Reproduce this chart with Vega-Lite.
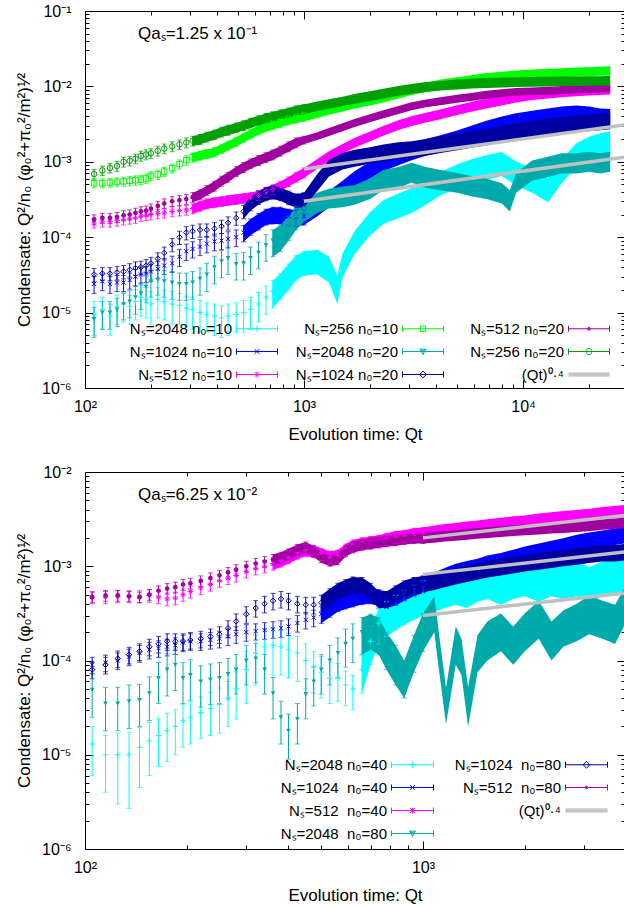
{
"$schema": "https://vega.github.io/schema/vega-lite/v6.json",
"background": "white",
"padding": {"left": 14, "top": 2, "right": 0, "bottom": 0},
"spacing": 20,
"config": {
  "font": "Liberation Sans",
  "view": {"stroke": "black", "strokeWidth": 1},
  "axis": {"labelColor": "black", "tickColor": "black", "titleColor": "black", "labelFontSize": 16, "titleFontSize": 17, "titleFontWeight": "normal", "grid": false, "domain": false, "labelFlush": false, "labelOverlap": false, "tickWidth": 1},
  "legend": {"labelColor": "black"},
  "title": {"color": "black", "fontWeight": "normal"}
},
"datasets": {
"topfit": [
{"k":1,"t":1000,"y":8e-4},{"k":1,"t":29200,"y":3.085e-3},
{"k":2,"t":1000,"y":3e-4},{"k":2,"t":29200,"y":1.157e-3}
],
"botfit": [
{"k":1,"t":1000,"y":2e-3},{"k":1,"t":3960,"y":3.47e-3},
{"k":2,"t":1000,"y":8.2e-4},{"k":2,"t":3960,"y":1.42e-3},
{"k":3,"t":1000,"y":3e-4},{"k":3,"t":3960,"y":5.2e-4}
],
"top": [
{"s":"A","t":110,"y":9.5e-6,"e":4.5e-6},{"s":"A","t":120,"y":1.1e-5,"e":5e-6},{"s":"A","t":130,"y":9e-6,"e":4e-6},{"s":"A","t":140,"y":1.2e-5,"e":5e-6},{"s":"A","t":150,"y":1.3e-5,"e":5.5e-6},{"s":"A","t":160,"y":1.2e-5,"e":5e-6},{"s":"A","t":170,"y":1.4e-5,"e":6e-6},{"s":"A","t":180,"y":1.6e-5,"e":7e-6},{"s":"A","t":190,"y":1.5e-5,"e":6.5e-6},{"s":"A","t":200,"y":1.3e-5,"e":6e-6},{"s":"A","t":215,"y":1.5e-5,"e":6.5e-6},{"s":"A","t":230,"y":1.4e-5,"e":6e-6},{"s":"A","t":250,"y":1.3e-5,"e":6e-6},{"s":"A","t":270,"y":1.25e-5,"e":5.5e-6},{"s":"A","t":290,"y":1.15e-5,"e":5e-6},{"s":"A","t":310,"y":1.1e-5,"e":5e-6},{"s":"A","t":335,"y":1e-5,"e":4.5e-6},{"s":"A","t":360,"y":9.5e-6,"e":4e-6},{"s":"A","t":390,"y":9e-6,"e":4e-6},{"s":"A","t":420,"y":8.5e-6,"e":3.8e-6},{"s":"A","t":450,"y":9e-6,"e":4e-6},{"s":"A","t":490,"y":9.5e-6,"e":4e-6},{"s":"A","t":530,"y":1e-5,"e":4.5e-6},{"s":"A","t":570,"y":1.1e-5,"e":5e-6},{"s":"A","t":620,"y":1.3e-5,"e":5.5e-6},{"s":"A","t":670,"y":1.6e-5,"e":6.5e-6},{"s":"A","t":720,"y":1.9e-5,"e":7.5e-6},{"s":"A","t":780,"y":2.4e-5,"e":9e-6},{"s":"A","t":850,"y":3.2e-5,"e":1.2e-5},{"s":"A","t":920,"y":4.2e-5,"e":1.5e-5},{"s":"A","t":1000,"y":4.8e-5,"e":1.7e-5},{"s":"A","t":1150,"y":5e-5,"e":1.8e-5},{"s":"A","t":1300,"y":4e-5,"e":1.5e-5},{"s":"A","t":1420,"y":2.2e-5,"e":9e-6},{"s":"A","t":1500,"y":4.5e-5,"e":1.6e-5},{"s":"A","t":1700,"y":9e-5,"e":3e-5},{"s":"A","t":2000,"y":1.6e-4,"e":5.5e-5},{"s":"A","t":2300,"y":2.3e-4,"e":8e-5},{"s":"A","t":2700,"y":2.8e-4,"e":1e-4},{"s":"A","t":3100,"y":3.3e-4,"e":1.2e-4},{"s":"A","t":3600,"y":4.2e-4,"e":1.5e-4},{"s":"A","t":4200,"y":5.5e-4,"e":1.9e-4},{"s":"A","t":5000,"y":6.8e-4,"e":2.4e-4},{"s":"A","t":5800,"y":8e-4,"e":2.8e-4},{"s":"A","t":6800,"y":9e-4,"e":3.2e-4},{"s":"A","t":8000,"y":1e-3,"e":3.5e-4},{"s":"A","t":9300,"y":7.5e-4,"e":2.6e-4},{"s":"A","t":11000,"y":6e-4,"e":2.1e-4},{"s":"A","t":13000,"y":4.5e-4,"e":1.6e-4},{"s":"A","t":15000,"y":8e-4,"e":2.8e-4},{"s":"A","t":17500,"y":1.3e-3,"e":4.5e-4},{"s":"A","t":20000,"y":1.6e-3,"e":5.5e-4},{"s":"A","t":22500,"y":1.8e-3,"e":6e-4},{"s":"A","t":25000,"y":1.9e-3,"e":6.5e-4},
{"s":"B","t":110,"y":2.4e-5,"e":6e-6},{"s":"B","t":120,"y":2.6e-5,"e":6.5e-6},{"s":"B","t":130,"y":2.4e-5,"e":6e-6},{"s":"B","t":140,"y":2.5e-5,"e":6e-6},{"s":"B","t":150,"y":2.5e-5,"e":6e-6},{"s":"B","t":160,"y":2.7e-5,"e":6.5e-6},{"s":"B","t":170,"y":3e-5,"e":7.5e-6},{"s":"B","t":180,"y":3.2e-5,"e":8e-6},{"s":"B","t":190,"y":3.3e-5,"e":8e-6},{"s":"B","t":200,"y":3.5e-5,"e":9e-6},{"s":"B","t":215,"y":3.8e-5,"e":9.5e-6},{"s":"B","t":230,"y":4.2e-5,"e":1e-5},{"s":"B","t":250,"y":4.5e-5,"e":1.1e-5},{"s":"B","t":270,"y":5.5e-5,"e":1.4e-5},{"s":"B","t":290,"y":6.5e-5,"e":1.6e-5},{"s":"B","t":310,"y":7e-5,"e":1.7e-5},{"s":"B","t":335,"y":7.5e-5,"e":1.8e-5},{"s":"B","t":360,"y":8.2e-5,"e":2e-5},{"s":"B","t":390,"y":8.8e-5,"e":2.2e-5},{"s":"B","t":420,"y":9e-5,"e":2.2e-5},{"s":"B","t":450,"y":9.5e-5,"e":2.3e-5},{"s":"B","t":490,"y":1e-4,"e":2.5e-5},{"s":"B","t":530,"y":1.15e-4,"e":2.8e-5},{"s":"B","t":570,"y":1.4e-4,"e":3.4e-5},{"s":"B","t":620,"y":1.65e-4,"e":4e-5},{"s":"B","t":670,"y":1.9e-4,"e":4.5e-5},{"s":"B","t":720,"y":2e-4,"e":5e-5},{"s":"B","t":780,"y":2e-4,"e":5e-5},{"s":"B","t":850,"y":1.9e-4,"e":4.5e-5},{"s":"B","t":920,"y":1.85e-4,"e":4.5e-5},{"s":"B","t":1000,"y":1.9e-4,"e":4.5e-5},{"s":"B","t":1150,"y":2.5e-4,"e":6e-5},{"s":"B","t":1300,"y":3.3e-4,"e":8e-5},{"s":"B","t":1500,"y":4.5e-4,"e":1.1e-4},{"s":"B","t":1700,"y":6e-4,"e":1.5e-4},{"s":"B","t":2000,"y":8e-4,"e":2e-4},{"s":"B","t":2300,"y":1e-3,"e":2.5e-4},{"s":"B","t":2700,"y":1.2e-3,"e":3e-4},{"s":"B","t":3100,"y":1.4e-3,"e":3.5e-4},{"s":"B","t":3600,"y":1.6e-3,"e":4e-4},{"s":"B","t":4200,"y":1.8e-3,"e":4.5e-4},{"s":"B","t":5000,"y":2.1e-3,"e":5e-4},{"s":"B","t":5800,"y":2.4e-3,"e":6e-4},{"s":"B","t":6800,"y":2.8e-3,"e":7e-4},{"s":"B","t":8000,"y":3.2e-3,"e":8e-4},{"s":"B","t":9300,"y":3.5e-3,"e":9e-4},{"s":"B","t":11000,"y":3.8e-3,"e":9.5e-4},{"s":"B","t":13000,"y":4.1e-3,"e":1e-3},{"s":"B","t":15000,"y":4.3e-3,"e":1.1e-3},{"s":"B","t":17500,"y":4.5e-3,"e":1.1e-3},{"s":"B","t":20000,"y":4.3e-3,"e":1.1e-3},{"s":"B","t":22500,"y":4.1e-3,"e":1e-3},{"s":"B","t":25000,"y":4e-3,"e":1e-3},
{"s":"C","t":110,"y":1.55e-4,"e":2.3e-5},{"s":"C","t":120,"y":1.6e-4,"e":2.4e-5},{"s":"C","t":130,"y":1.6e-4,"e":2.4e-5},{"s":"C","t":140,"y":1.65e-4,"e":2.5e-5},{"s":"C","t":150,"y":1.7e-4,"e":2.5e-5},{"s":"C","t":160,"y":1.75e-4,"e":2.6e-5},{"s":"C","t":170,"y":1.8e-4,"e":2.7e-5},{"s":"C","t":180,"y":1.9e-4,"e":2.8e-5},{"s":"C","t":190,"y":1.95e-4,"e":2.9e-5},{"s":"C","t":200,"y":2e-4,"e":3e-5},{"s":"C","t":215,"y":2.05e-4,"e":3e-5},{"s":"C","t":230,"y":2.1e-4,"e":3.1e-5},{"s":"C","t":250,"y":2.2e-4,"e":3.3e-5},{"s":"C","t":270,"y":2.25e-4,"e":3.4e-5},{"s":"C","t":290,"y":2.3e-4,"e":3.4e-5},{"s":"C","t":310,"y":2.4e-4,"e":3.6e-5},{"s":"C","t":335,"y":2.6e-4,"e":3.9e-5},{"s":"C","t":360,"y":2.8e-4,"e":4.2e-5},{"s":"C","t":390,"y":2.9e-4,"e":4.4e-5},{"s":"C","t":420,"y":3e-4,"e":4.5e-5},{"s":"C","t":450,"y":3.1e-4,"e":4.6e-5},{"s":"C","t":490,"y":3.2e-4,"e":4.8e-5},{"s":"C","t":530,"y":3.3e-4,"e":5e-5},{"s":"C","t":570,"y":3.4e-4,"e":5e-5},{"s":"C","t":620,"y":3.6e-4,"e":5.4e-5},{"s":"C","t":670,"y":4e-4,"e":6e-5},{"s":"C","t":720,"y":4.3e-4,"e":6.5e-5},{"s":"C","t":780,"y":4.8e-4,"e":7e-5},{"s":"C","t":850,"y":5.5e-4,"e":8e-5},{"s":"C","t":920,"y":6.3e-4,"e":9.5e-5},{"s":"C","t":1000,"y":7.2e-4,"e":1.1e-4},{"s":"C","t":1150,"y":9.5e-4,"e":1.4e-4},{"s":"C","t":1300,"y":1.2e-3,"e":1.8e-4},{"s":"C","t":1500,"y":1.5e-3,"e":2.2e-4},{"s":"C","t":1700,"y":1.8e-3,"e":2.7e-4},{"s":"C","t":2000,"y":2.2e-3,"e":3.3e-4},{"s":"C","t":2300,"y":2.6e-3,"e":3.9e-4},{"s":"C","t":2700,"y":3.1e-3,"e":4.6e-4},{"s":"C","t":3100,"y":3.5e-3,"e":5.2e-4},{"s":"C","t":3600,"y":3.9e-3,"e":5.8e-4},{"s":"C","t":4200,"y":4.3e-3,"e":6.4e-4},{"s":"C","t":5000,"y":4.9e-3,"e":7.3e-4},{"s":"C","t":5800,"y":5.4e-3,"e":8e-4},{"s":"C","t":6800,"y":6e-3,"e":9e-4},{"s":"C","t":8000,"y":6.6e-3,"e":1e-3},{"s":"C","t":9300,"y":7.2e-3,"e":1.1e-3},{"s":"C","t":11000,"y":7.7e-3,"e":1.1e-3},{"s":"C","t":13000,"y":8.1e-3,"e":1.2e-3},{"s":"C","t":15000,"y":8.4e-3,"e":1.2e-3},{"s":"C","t":17500,"y":8.7e-3,"e":1.3e-3},{"s":"C","t":20000,"y":8.9e-3,"e":1.3e-3},{"s":"C","t":22500,"y":9e-3,"e":1.3e-3},{"s":"C","t":25000,"y":9.1e-3,"e":1.3e-3},
{"s":"D","t":110,"y":5.2e-4,"e":7e-5},{"s":"D","t":120,"y":5.2e-4,"e":7e-5},{"s":"D","t":130,"y":5.3e-4,"e":7e-5},{"s":"D","t":140,"y":5.4e-4,"e":7.5e-5},{"s":"D","t":150,"y":5.5e-4,"e":7.5e-5},{"s":"D","t":160,"y":5.6e-4,"e":8e-5},{"s":"D","t":170,"y":5.7e-4,"e":8e-5},{"s":"D","t":180,"y":5.8e-4,"e":8e-5},{"s":"D","t":190,"y":6e-4,"e":8.5e-5},{"s":"D","t":200,"y":6.5e-4,"e":9e-5},{"s":"D","t":215,"y":6.8e-4,"e":9.5e-5},{"s":"D","t":230,"y":7.4e-4,"e":1e-4},{"s":"D","t":250,"y":8.2e-4,"e":1.1e-4},{"s":"D","t":270,"y":9.3e-4,"e":1.3e-4},{"s":"D","t":290,"y":1.05e-3,"e":1.5e-4},{"s":"D","t":310,"y":1.15e-3,"e":1.6e-4},{"s":"D","t":335,"y":1.22e-3,"e":1.7e-4},{"s":"D","t":360,"y":1.28e-3,"e":1.8e-4},{"s":"D","t":390,"y":1.35e-3,"e":1.9e-4},{"s":"D","t":420,"y":1.5e-3,"e":2.1e-4},{"s":"D","t":450,"y":1.65e-3,"e":2.3e-4},{"s":"D","t":490,"y":1.85e-3,"e":2.6e-4},{"s":"D","t":530,"y":2.1e-3,"e":2.9e-4},{"s":"D","t":570,"y":2.35e-3,"e":3.3e-4},{"s":"D","t":620,"y":2.65e-3,"e":3.7e-4},{"s":"D","t":670,"y":2.9e-3,"e":4e-4},{"s":"D","t":720,"y":3.1e-3,"e":4.3e-4},{"s":"D","t":780,"y":3.35e-3,"e":4.7e-4},{"s":"D","t":850,"y":3.6e-3,"e":5e-4},{"s":"D","t":920,"y":3.8e-3,"e":5.3e-4},{"s":"D","t":1000,"y":4e-3,"e":5.6e-4},{"s":"D","t":1150,"y":4.4e-3,"e":6e-4},{"s":"D","t":1300,"y":4.9e-3,"e":6.8e-4},{"s":"D","t":1500,"y":5.4e-3,"e":7.5e-4},{"s":"D","t":1700,"y":5.9e-3,"e":8.2e-4},{"s":"D","t":2000,"y":6.5e-3,"e":9e-4},{"s":"D","t":2300,"y":7.1e-3,"e":1e-3},{"s":"D","t":2700,"y":8e-3,"e":1.1e-3},{"s":"D","t":3100,"y":8.9e-3,"e":1.2e-3},{"s":"D","t":3600,"y":9.8e-3,"e":1.4e-3},{"s":"D","t":4200,"y":1.08e-2,"e":1.5e-3},{"s":"D","t":5000,"y":1.16e-2,"e":1.6e-3},{"s":"D","t":5800,"y":1.24e-2,"e":1.7e-3},{"s":"D","t":6800,"y":1.32e-2,"e":1.8e-3},{"s":"D","t":8000,"y":1.38e-2,"e":1.9e-3},{"s":"D","t":9300,"y":1.43e-2,"e":2e-3},{"s":"D","t":11000,"y":1.47e-2,"e":2e-3},{"s":"D","t":13000,"y":1.5e-2,"e":2.1e-3},{"s":"D","t":15000,"y":1.53e-2,"e":2.1e-3},{"s":"D","t":17500,"y":1.56e-2,"e":2.2e-3},{"s":"D","t":20000,"y":1.58e-2,"e":2.2e-3},{"s":"D","t":22500,"y":1.6e-2,"e":2.2e-3},{"s":"D","t":25000,"y":1.62e-2,"e":2.3e-3},
{"s":"E","t":110,"y":8.2e-6,"e":3.5e-6},{"s":"E","t":120,"y":1e-5,"e":4e-6},{"s":"E","t":130,"y":1e-5,"e":4e-6},{"s":"E","t":140,"y":1.1e-5,"e":4.5e-6},{"s":"E","t":150,"y":1.3e-5,"e":5e-6},{"s":"E","t":160,"y":1.4e-5,"e":5.5e-6},{"s":"E","t":170,"y":1.6e-5,"e":6.5e-6},{"s":"E","t":180,"y":1.8e-5,"e":7e-6},{"s":"E","t":190,"y":2.2e-5,"e":8.5e-6},{"s":"E","t":200,"y":2.6e-5,"e":1e-5},{"s":"E","t":215,"y":2.7e-5,"e":1e-5},{"s":"E","t":230,"y":2.6e-5,"e":1e-5},{"s":"E","t":250,"y":2.5e-5,"e":1e-5},{"s":"E","t":270,"y":2.4e-5,"e":9.5e-6},{"s":"E","t":290,"y":2.4e-5,"e":9.5e-6},{"s":"E","t":310,"y":2.5e-5,"e":1e-5},{"s":"E","t":335,"y":2.8e-5,"e":1.1e-5},{"s":"E","t":360,"y":3.2e-5,"e":1.3e-5},{"s":"E","t":390,"y":4e-5,"e":1.6e-5},{"s":"E","t":420,"y":4.8e-5,"e":1.9e-5},{"s":"E","t":450,"y":5.3e-5,"e":2.1e-5},{"s":"E","t":490,"y":4.4e-5,"e":1.7e-5},{"s":"E","t":530,"y":4.5e-5,"e":1.8e-5},{"s":"E","t":570,"y":5.3e-5,"e":2.1e-5},{"s":"E","t":620,"y":6.2e-5,"e":2.4e-5},{"s":"E","t":670,"y":7.8e-5,"e":3e-5},{"s":"E","t":720,"y":9e-5,"e":3.5e-5},{"s":"E","t":780,"y":1.05e-4,"e":4e-5},{"s":"E","t":850,"y":1.4e-4,"e":5e-5},{"s":"E","t":920,"y":1.9e-4,"e":6.5e-5},{"s":"E","t":1000,"y":2.4e-4,"e":8e-5},{"s":"E","t":1150,"y":3e-4,"e":9e-5},{"s":"E","t":1300,"y":3.4e-4,"e":1e-4},{"s":"E","t":1500,"y":3.6e-4,"e":1.1e-4},{"s":"E","t":1700,"y":3.8e-4,"e":1.1e-4},{"s":"E","t":2000,"y":4.6e-4,"e":1.4e-4},{"s":"E","t":2300,"y":6e-4,"e":1.8e-4},{"s":"E","t":2700,"y":6.5e-4,"e":2e-4},{"s":"E","t":3100,"y":7.5e-4,"e":2.2e-4},{"s":"E","t":3600,"y":6.5e-4,"e":2e-4},{"s":"E","t":4200,"y":6e-4,"e":1.8e-4},{"s":"E","t":5000,"y":5.5e-4,"e":1.6e-4},{"s":"E","t":5800,"y":5e-4,"e":1.5e-4},{"s":"E","t":6800,"y":4.6e-4,"e":1.4e-4},{"s":"E","t":8000,"y":4e-4,"e":1.2e-4},{"s":"E","t":8700,"y":3.2e-4,"e":1e-4},{"s":"E","t":9300,"y":5.5e-4,"e":1.6e-4},{"s":"E","t":11000,"y":8e-4,"e":2.4e-4},{"s":"E","t":13000,"y":9e-4,"e":2.7e-4},{"s":"E","t":15000,"y":1e-3,"e":3e-4},{"s":"E","t":17500,"y":1e-3,"e":3e-4},{"s":"E","t":20000,"y":1.05e-3,"e":3.1e-4},{"s":"E","t":22500,"y":1e-3,"e":3e-4},{"s":"E","t":25000,"y":1.05e-3,"e":3.1e-4},
{"s":"F","t":110,"y":3.2e-5,"e":6.5e-6},{"s":"F","t":120,"y":3.3e-5,"e":6.5e-6},{"s":"F","t":130,"y":3.3e-5,"e":6.5e-6},{"s":"F","t":140,"y":3.4e-5,"e":7e-6},{"s":"F","t":150,"y":3.5e-5,"e":7e-6},{"s":"F","t":160,"y":3.7e-5,"e":7.5e-6},{"s":"F","t":170,"y":3.9e-5,"e":8e-6},{"s":"F","t":180,"y":4e-5,"e":8e-6},{"s":"F","t":190,"y":4.2e-5,"e":8.5e-6},{"s":"F","t":200,"y":4.5e-5,"e":9e-6},{"s":"F","t":215,"y":5.2e-5,"e":1e-5},{"s":"F","t":230,"y":6.2e-5,"e":1.2e-5},{"s":"F","t":250,"y":8e-5,"e":1.6e-5},{"s":"F","t":270,"y":1e-4,"e":2e-5},{"s":"F","t":290,"y":1.15e-4,"e":2.3e-5},{"s":"F","t":310,"y":1.2e-4,"e":2.4e-5},{"s":"F","t":335,"y":1.25e-4,"e":2.5e-5},{"s":"F","t":360,"y":1.25e-4,"e":2.5e-5},{"s":"F","t":390,"y":1.3e-4,"e":2.6e-5},{"s":"F","t":420,"y":1.4e-4,"e":2.8e-5},{"s":"F","t":450,"y":1.55e-4,"e":3.1e-5},{"s":"F","t":490,"y":1.8e-4,"e":3.6e-5},{"s":"F","t":530,"y":2.2e-4,"e":4.4e-5},{"s":"F","t":570,"y":2.8e-4,"e":5.6e-5},{"s":"F","t":620,"y":3.4e-4,"e":6.8e-5},{"s":"F","t":670,"y":3.8e-4,"e":7.6e-5},{"s":"F","t":720,"y":4e-4,"e":8e-5},{"s":"F","t":780,"y":3.8e-4,"e":7.6e-5},{"s":"F","t":850,"y":3.4e-4,"e":7e-5},{"s":"F","t":920,"y":3.1e-4,"e":6.5e-5},{"s":"F","t":1000,"y":3.2e-4,"e":7e-5},{"s":"F","t":1150,"y":5.5e-4,"e":1.4e-4},{"s":"F","t":1300,"y":8.5e-4,"e":2.1e-4},{"s":"F","t":1500,"y":1.05e-3,"e":2.6e-4},{"s":"F","t":1700,"y":1.15e-3,"e":2.9e-4},{"s":"F","t":2000,"y":1.25e-3,"e":3.1e-4},{"s":"F","t":2300,"y":1.35e-3,"e":3.4e-4},{"s":"F","t":2700,"y":1.45e-3,"e":3.6e-4},{"s":"F","t":3100,"y":1.5e-3,"e":3.8e-4},{"s":"F","t":3600,"y":1.6e-3,"e":4e-4},{"s":"F","t":4200,"y":1.75e-3,"e":4.4e-4},{"s":"F","t":5000,"y":1.9e-3,"e":4.8e-4},{"s":"F","t":5800,"y":2.05e-3,"e":5.1e-4},{"s":"F","t":6800,"y":2.2e-3,"e":5.5e-4},{"s":"F","t":8000,"y":2.4e-3,"e":6e-4},{"s":"F","t":9300,"y":2.6e-3,"e":6.5e-4},{"s":"F","t":11000,"y":2.8e-3,"e":7e-4},{"s":"F","t":13000,"y":3e-3,"e":7.5e-4},{"s":"F","t":15000,"y":3.15e-3,"e":7.9e-4},{"s":"F","t":17500,"y":3.3e-3,"e":8.3e-4},{"s":"F","t":20000,"y":3.4e-3,"e":8.5e-4},{"s":"F","t":22500,"y":3.5e-3,"e":8.8e-4},{"s":"F","t":25000,"y":3.6e-3,"e":9e-4},
{"s":"G","t":110,"y":1.72e-4,"e":2.6e-5},{"s":"G","t":120,"y":1.8e-4,"e":2.7e-5},{"s":"G","t":130,"y":1.8e-4,"e":2.7e-5},{"s":"G","t":140,"y":1.85e-4,"e":2.8e-5},{"s":"G","t":150,"y":1.95e-4,"e":2.9e-5},{"s":"G","t":160,"y":2e-4,"e":3e-5},{"s":"G","t":170,"y":2.1e-4,"e":3.2e-5},{"s":"G","t":180,"y":2.2e-4,"e":3.3e-5},{"s":"G","t":190,"y":2.25e-4,"e":3.4e-5},{"s":"G","t":200,"y":2.4e-4,"e":3.6e-5},{"s":"G","t":215,"y":2.6e-4,"e":3.9e-5},{"s":"G","t":230,"y":2.8e-4,"e":4.2e-5},{"s":"G","t":250,"y":3e-4,"e":4.5e-5},{"s":"G","t":270,"y":3.1e-4,"e":4.6e-5},{"s":"G","t":290,"y":3.2e-4,"e":4.8e-5},{"s":"G","t":310,"y":3.4e-4,"e":5e-5},{"s":"G","t":335,"y":3.7e-4,"e":5.5e-5},{"s":"G","t":360,"y":4.2e-4,"e":6.3e-5},{"s":"G","t":390,"y":4.8e-4,"e":7.2e-5},{"s":"G","t":420,"y":5.6e-4,"e":8.4e-5},{"s":"G","t":450,"y":6.3e-4,"e":9.5e-5},{"s":"G","t":490,"y":7.5e-4,"e":1.1e-4},{"s":"G","t":530,"y":8.5e-4,"e":1.3e-4},{"s":"G","t":570,"y":9.5e-4,"e":1.4e-4},{"s":"G","t":620,"y":1.05e-3,"e":1.6e-4},{"s":"G","t":670,"y":1.15e-3,"e":1.7e-4},{"s":"G","t":720,"y":1.25e-3,"e":1.9e-4},{"s":"G","t":780,"y":1.4e-3,"e":2.1e-4},{"s":"G","t":850,"y":1.6e-3,"e":2.4e-4},{"s":"G","t":920,"y":1.8e-3,"e":2.7e-4},{"s":"G","t":1000,"y":1.95e-3,"e":2.3e-4},{"s":"G","t":1150,"y":2.2e-3,"e":2.6e-4},{"s":"G","t":1300,"y":2.5e-3,"e":3e-4},{"s":"G","t":1500,"y":2.9e-3,"e":3.5e-4},{"s":"G","t":1700,"y":3.3e-3,"e":4e-4},{"s":"G","t":2000,"y":3.8e-3,"e":4.6e-4},{"s":"G","t":2300,"y":4.3e-3,"e":5.2e-4},{"s":"G","t":2700,"y":4.9e-3,"e":5.9e-4},{"s":"G","t":3100,"y":5.5e-3,"e":6.6e-4},{"s":"G","t":3600,"y":6e-3,"e":7.2e-4},{"s":"G","t":4200,"y":6.4e-3,"e":7.7e-4},{"s":"G","t":5000,"y":6.9e-3,"e":8.3e-4},{"s":"G","t":5800,"y":7.3e-3,"e":8.8e-4},{"s":"G","t":6800,"y":7.8e-3,"e":9.4e-4},{"s":"G","t":8000,"y":8.2e-3,"e":9.8e-4},{"s":"G","t":9300,"y":8.5e-3,"e":1e-3},{"s":"G","t":11000,"y":8.7e-3,"e":1e-3},{"s":"G","t":13000,"y":8.8e-3,"e":1.1e-3},{"s":"G","t":15000,"y":9e-3,"e":1.1e-3},{"s":"G","t":17500,"y":9.2e-3,"e":1.1e-3},{"s":"G","t":20000,"y":9.3e-3,"e":1.1e-3},{"s":"G","t":22500,"y":9.4e-3,"e":1.1e-3},{"s":"G","t":25000,"y":9.5e-3,"e":1.1e-3},
{"s":"H","t":110,"y":6.9e-4,"e":1e-4},{"s":"H","t":120,"y":7.7e-4,"e":1.1e-4},{"s":"H","t":130,"y":8.3e-4,"e":1.2e-4},{"s":"H","t":140,"y":8.8e-4,"e":1.3e-4},{"s":"H","t":150,"y":1e-3,"e":1.5e-4},{"s":"H","t":160,"y":1.03e-3,"e":1.5e-4},{"s":"H","t":170,"y":1.1e-3,"e":1.6e-4},{"s":"H","t":180,"y":1.2e-3,"e":1.8e-4},{"s":"H","t":190,"y":1.25e-3,"e":1.9e-4},{"s":"H","t":200,"y":1.3e-3,"e":1.9e-4},{"s":"H","t":215,"y":1.4e-3,"e":2.1e-4},{"s":"H","t":230,"y":1.5e-3,"e":2.2e-4},{"s":"H","t":250,"y":1.6e-3,"e":2.4e-4},{"s":"H","t":270,"y":1.7e-3,"e":2.5e-4},{"s":"H","t":290,"y":1.8e-3,"e":2.7e-4},{"s":"H","t":310,"y":1.9e-3,"e":2.8e-4},{"s":"H","t":335,"y":2e-3,"e":3e-4},{"s":"H","t":360,"y":2.15e-3,"e":3.2e-4},{"s":"H","t":390,"y":2.3e-3,"e":3.4e-4},{"s":"H","t":420,"y":2.5e-3,"e":3.7e-4},{"s":"H","t":450,"y":2.65e-3,"e":4e-4},{"s":"H","t":490,"y":2.85e-3,"e":4.2e-4},{"s":"H","t":530,"y":3.05e-3,"e":4.5e-4},{"s":"H","t":570,"y":3.3e-3,"e":4.9e-4},{"s":"H","t":620,"y":3.55e-3,"e":5.3e-4},{"s":"H","t":670,"y":3.8e-3,"e":5.7e-4},{"s":"H","t":720,"y":4e-3,"e":6e-4},{"s":"H","t":780,"y":4.25e-3,"e":6.3e-4},{"s":"H","t":850,"y":4.5e-3,"e":6.7e-4},{"s":"H","t":920,"y":4.8e-3,"e":7.2e-4},{"s":"H","t":1000,"y":5e-3,"e":7.5e-4},{"s":"H","t":1150,"y":5.5e-3,"e":8e-4},{"s":"H","t":1300,"y":5.9e-3,"e":8.5e-4},{"s":"H","t":1500,"y":6.4e-3,"e":9e-4},{"s":"H","t":1700,"y":6.9e-3,"e":1e-3},{"s":"H","t":2000,"y":7.5e-3,"e":1.1e-3},{"s":"H","t":2300,"y":8.1e-3,"e":1.2e-3},{"s":"H","t":2700,"y":8.8e-3,"e":1.3e-3},{"s":"H","t":3100,"y":9.4e-3,"e":1.4e-3},{"s":"H","t":3600,"y":9.9e-3,"e":1.5e-3},{"s":"H","t":4200,"y":1.03e-2,"e":1.5e-3},{"s":"H","t":5000,"y":1.07e-2,"e":1.6e-3},{"s":"H","t":5800,"y":1.1e-2,"e":1.6e-3},{"s":"H","t":6800,"y":1.12e-2,"e":1.7e-3},{"s":"H","t":8000,"y":1.14e-2,"e":1.7e-3},{"s":"H","t":9300,"y":1.15e-2,"e":1.7e-3},{"s":"H","t":11000,"y":1.16e-2,"e":1.7e-3},{"s":"H","t":13000,"y":1.17e-2,"e":1.7e-3},{"s":"H","t":15000,"y":1.18e-2,"e":1.7e-3},{"s":"H","t":17500,"y":1.18e-2,"e":1.7e-3},{"s":"H","t":20000,"y":1.19e-2,"e":1.7e-3},{"s":"H","t":22500,"y":1.19e-2,"e":1.7e-3},{"s":"H","t":25000,"y":1.2e-2,"e":1.8e-3}
],
"bot": [
{"s":"A","t":105,"y":1.3e-5,"e":7e-6},{"s":"A","t":115,"y":1e-5,"e":6e-6},{"s":"A","t":125,"y":1e-5,"e":7e-6},{"s":"A","t":135,"y":1e-5,"e":7.3e-6},{"s":"A","t":145,"y":1.2e-5,"e":7.5e-6},{"s":"A","t":155,"y":1.4e-5,"e":8e-6},{"s":"A","t":165,"y":1.6e-5,"e":8.5e-6},{"s":"A","t":175,"y":1.8e-5,"e":9.5e-6},{"s":"A","t":185,"y":2e-5,"e":1e-5},{"s":"A","t":195,"y":2.3e-5,"e":1.1e-5},{"s":"A","t":205,"y":2.5e-5,"e":1.2e-5},{"s":"A","t":220,"y":2.8e-5,"e":1.3e-5},{"s":"A","t":235,"y":3.1e-5,"e":1.5e-5},{"s":"A","t":250,"y":3.4e-5,"e":1.7e-5},{"s":"A","t":265,"y":4e-5,"e":2e-5},{"s":"A","t":280,"y":5e-5,"e":2.6e-5},{"s":"A","t":300,"y":8e-5,"e":4.5e-5},{"s":"A","t":320,"y":1.2e-4,"e":6.5e-5},{"s":"A","t":340,"y":1.4e-4,"e":7.5e-5},{"s":"A","t":360,"y":1.45e-4,"e":7.5e-5},{"s":"A","t":380,"y":1.4e-4,"e":7e-5},{"s":"A","t":400,"y":1.3e-4,"e":6.5e-5},{"s":"A","t":425,"y":1.2e-4,"e":6e-5},{"s":"A","t":450,"y":1e-4,"e":5e-5},{"s":"A","t":475,"y":8.5e-5,"e":4e-5},{"s":"A","t":500,"y":7.5e-5,"e":3.5e-5},{"s":"A","t":530,"y":6.5e-5,"e":3e-5},{"s":"A","t":560,"y":6.5e-5,"e":2.8e-5},{"s":"A","t":590,"y":5.5e-5,"e":2.2e-5},{"s":"A","t":620,"y":5e-5,"e":2e-5},{"s":"A","t":660,"y":8e-5,"e":3.5e-5},{"s":"A","t":700,"y":1.6e-4,"e":7e-5},{"s":"A","t":740,"y":2.5e-4,"e":1e-4},{"s":"A","t":780,"y":3e-4,"e":1.2e-4},{"s":"A","t":830,"y":3.5e-4,"e":1.4e-4},{"s":"A","t":880,"y":4e-4,"e":1.6e-4},{"s":"A","t":940,"y":4.5e-4,"e":1.8e-4},{"s":"A","t":1000,"y":5e-4,"e":2e-4},{"s":"A","t":1080,"y":5.5e-4,"e":2.2e-4},{"s":"A","t":1160,"y":6e-4,"e":2.4e-4},{"s":"A","t":1250,"y":6.5e-4,"e":2.6e-4},{"s":"A","t":1350,"y":6e-4,"e":2.4e-4},{"s":"A","t":1450,"y":7e-4,"e":2.8e-4},{"s":"A","t":1550,"y":7.5e-4,"e":3e-4},{"s":"A","t":1700,"y":6.5e-4,"e":2.6e-4},{"s":"A","t":1850,"y":7.5e-4,"e":3e-4},{"s":"A","t":2000,"y":8e-4,"e":3.2e-4},{"s":"A","t":2200,"y":7e-4,"e":2.8e-4},{"s":"A","t":2400,"y":8e-4,"e":3.2e-4},{"s":"A","t":2600,"y":7.5e-4,"e":3e-4},{"s":"A","t":2850,"y":8e-4,"e":3.2e-4},{"s":"A","t":3100,"y":7e-4,"e":2.8e-4},{"s":"A","t":3400,"y":8e-4,"e":3.2e-4},{"s":"A","t":3700,"y":8.5e-4,"e":3.4e-4},{"s":"A","t":4000,"y":9e-4,"e":3.6e-4},
{"s":"B","t":105,"y":9e-5,"e":1.8e-5},{"s":"B","t":115,"y":9.5e-5,"e":1.9e-5},{"s":"B","t":125,"y":1e-4,"e":2e-5},{"s":"B","t":135,"y":1.1e-4,"e":2.2e-5},{"s":"B","t":145,"y":1.2e-4,"e":2.4e-5},{"s":"B","t":155,"y":1.3e-4,"e":2.6e-5},{"s":"B","t":165,"y":1.35e-4,"e":2.7e-5},{"s":"B","t":175,"y":1.4e-4,"e":2.8e-5},{"s":"B","t":185,"y":1.45e-4,"e":2.9e-5},{"s":"B","t":195,"y":1.55e-4,"e":3.1e-5},{"s":"B","t":205,"y":1.6e-4,"e":3.2e-5},{"s":"B","t":220,"y":1.6e-4,"e":3.2e-5},{"s":"B","t":235,"y":1.65e-4,"e":3.3e-5},{"s":"B","t":250,"y":1.7e-4,"e":3.4e-5},{"s":"B","t":265,"y":1.8e-4,"e":3.6e-5},{"s":"B","t":280,"y":1.9e-4,"e":3.8e-5},{"s":"B","t":300,"y":2e-4,"e":4e-5},{"s":"B","t":320,"y":2.05e-4,"e":4e-5},{"s":"B","t":340,"y":2.1e-4,"e":4.2e-5},{"s":"B","t":360,"y":2.15e-4,"e":4.3e-5},{"s":"B","t":380,"y":2.2e-4,"e":4.4e-5},{"s":"B","t":400,"y":2.3e-4,"e":4.6e-5},{"s":"B","t":425,"y":2.5e-4,"e":5e-5},{"s":"B","t":450,"y":2.7e-4,"e":5.4e-5},{"s":"B","t":475,"y":2.85e-4,"e":5.7e-5},{"s":"B","t":500,"y":3.1e-4,"e":6.2e-5},{"s":"B","t":530,"y":3.6e-4,"e":7.2e-5},{"s":"B","t":560,"y":4.1e-4,"e":8e-5},{"s":"B","t":590,"y":4.4e-4,"e":8.8e-5},{"s":"B","t":620,"y":4.6e-4,"e":9e-5},{"s":"B","t":660,"y":4.9e-4,"e":9.8e-5},{"s":"B","t":700,"y":5e-4,"e":1e-4},{"s":"B","t":740,"y":4.7e-4,"e":9.4e-5},{"s":"B","t":780,"y":4.5e-4,"e":9e-5},{"s":"B","t":830,"y":4.8e-4,"e":9.6e-5},{"s":"B","t":880,"y":5.4e-4,"e":1.1e-4},{"s":"B","t":940,"y":6e-4,"e":1.2e-4},{"s":"B","t":1000,"y":6.5e-4,"e":1.3e-4},{"s":"B","t":1080,"y":7.2e-4,"e":1.4e-4},{"s":"B","t":1160,"y":8e-4,"e":1.6e-4},{"s":"B","t":1250,"y":8.8e-4,"e":1.8e-4},{"s":"B","t":1350,"y":9.5e-4,"e":1.9e-4},{"s":"B","t":1450,"y":1e-3,"e":2e-4},{"s":"B","t":1550,"y":1.08e-3,"e":2.2e-4},{"s":"B","t":1700,"y":1.15e-3,"e":2.3e-4},{"s":"B","t":1850,"y":1.25e-3,"e":2.5e-4},{"s":"B","t":2000,"y":1.35e-3,"e":2.7e-4},{"s":"B","t":2200,"y":1.45e-3,"e":2.9e-4},{"s":"B","t":2400,"y":1.55e-3,"e":3.1e-4},{"s":"B","t":2600,"y":1.65e-3,"e":3.3e-4},{"s":"B","t":2850,"y":1.8e-3,"e":3.6e-4},{"s":"B","t":3100,"y":1.9e-3,"e":3.8e-4},{"s":"B","t":3400,"y":2e-3,"e":4e-4},{"s":"B","t":3700,"y":2.1e-3,"e":4.2e-4},{"s":"B","t":4000,"y":2.2e-3,"e":4.4e-4},
{"s":"C","t":105,"y":4.7e-4,"e":7e-5},{"s":"C","t":115,"y":4.7e-4,"e":7e-5},{"s":"C","t":125,"y":4.8e-4,"e":7e-5},{"s":"C","t":135,"y":4.8e-4,"e":7e-5},{"s":"C","t":145,"y":4.8e-4,"e":7e-5},{"s":"C","t":155,"y":4.9e-4,"e":7.5e-5},{"s":"C","t":165,"y":4.7e-4,"e":7e-5},{"s":"C","t":175,"y":4.5e-4,"e":7e-5},{"s":"C","t":185,"y":4.6e-4,"e":7e-5},{"s":"C","t":195,"y":5e-4,"e":7.5e-5},{"s":"C","t":205,"y":5.4e-4,"e":8e-5},{"s":"C","t":220,"y":5.9e-4,"e":9e-5},{"s":"C","t":235,"y":6.4e-4,"e":9.5e-5},{"s":"C","t":250,"y":7e-4,"e":1e-4},{"s":"C","t":265,"y":7.5e-4,"e":1.1e-4},{"s":"C","t":280,"y":8e-4,"e":1.2e-4},{"s":"C","t":300,"y":8.8e-4,"e":1.3e-4},{"s":"C","t":320,"y":9.5e-4,"e":1.4e-4},{"s":"C","t":340,"y":1e-3,"e":1.5e-4},{"s":"C","t":360,"y":1.07e-3,"e":1.6e-4},{"s":"C","t":380,"y":1.15e-3,"e":1.7e-4},{"s":"C","t":400,"y":1.25e-3,"e":1.9e-4},{"s":"C","t":425,"y":1.4e-3,"e":2.1e-4},{"s":"C","t":450,"y":1.5e-3,"e":2.2e-4},{"s":"C","t":475,"y":1.45e-3,"e":2.2e-4},{"s":"C","t":500,"y":1.35e-3,"e":2e-4},{"s":"C","t":530,"y":1.25e-3,"e":1.9e-4},{"s":"C","t":560,"y":1.3e-3,"e":1.9e-4},{"s":"C","t":590,"y":1.5e-3,"e":2.2e-4},{"s":"C","t":620,"y":1.65e-3,"e":2.5e-4},{"s":"C","t":660,"y":1.75e-3,"e":2.6e-4},{"s":"C","t":700,"y":1.8e-3,"e":2.7e-4},{"s":"C","t":740,"y":1.85e-3,"e":2.8e-4},{"s":"C","t":780,"y":1.95e-3,"e":2.9e-4},{"s":"C","t":830,"y":2.05e-3,"e":3e-4},{"s":"C","t":880,"y":2.1e-3,"e":3.1e-4},{"s":"C","t":940,"y":2.2e-3,"e":3.3e-4},{"s":"C","t":1000,"y":2.25e-3,"e":3.3e-4},{"s":"C","t":1080,"y":2.35e-3,"e":3.5e-4},{"s":"C","t":1160,"y":2.45e-3,"e":3.6e-4},{"s":"C","t":1250,"y":2.5e-3,"e":3.7e-4},{"s":"C","t":1350,"y":2.6e-3,"e":3.9e-4},{"s":"C","t":1450,"y":2.65e-3,"e":4e-4},{"s":"C","t":1550,"y":2.75e-3,"e":4.1e-4},{"s":"C","t":1700,"y":2.85e-3,"e":4.2e-4},{"s":"C","t":1850,"y":2.95e-3,"e":4.4e-4},{"s":"C","t":2000,"y":3e-3,"e":4.5e-4},{"s":"C","t":2200,"y":3.15e-3,"e":4.7e-4},{"s":"C","t":2400,"y":3.25e-3,"e":4.8e-4},{"s":"C","t":2600,"y":3.35e-3,"e":5e-4},{"s":"C","t":2850,"y":3.45e-3,"e":5.1e-4},{"s":"C","t":3100,"y":3.55e-3,"e":5.3e-4},{"s":"C","t":3400,"y":3.7e-3,"e":5.5e-4},{"s":"C","t":3700,"y":3.8e-3,"e":5.7e-4},{"s":"C","t":4000,"y":3.9e-3,"e":5.8e-4},
{"s":"E","t":105,"y":4.9e-5,"e":2.4e-5},{"s":"E","t":115,"y":3.5e-5,"e":1.7e-5},{"s":"E","t":125,"y":3.5e-5,"e":1.7e-5},{"s":"E","t":135,"y":3.7e-5,"e":1.8e-5},{"s":"E","t":145,"y":3.8e-5,"e":1.8e-5},{"s":"E","t":155,"y":4.5e-5,"e":2.2e-5},{"s":"E","t":165,"y":6.5e-5,"e":3e-5},{"s":"E","t":175,"y":8e-5,"e":3.8e-5},{"s":"E","t":185,"y":9e-5,"e":4.2e-5},{"s":"E","t":195,"y":6.5e-5,"e":3e-5},{"s":"E","t":205,"y":7e-5,"e":3.2e-5},{"s":"E","t":220,"y":6e-5,"e":2.8e-5},{"s":"E","t":235,"y":6.3e-5,"e":2.9e-5},{"s":"E","t":250,"y":6.5e-5,"e":3e-5},{"s":"E","t":265,"y":7.2e-5,"e":3.3e-5},{"s":"E","t":280,"y":8e-5,"e":3.6e-5},{"s":"E","t":300,"y":1e-4,"e":4.5e-5},{"s":"E","t":320,"y":1.05e-4,"e":4.7e-5},{"s":"E","t":340,"y":8e-5,"e":3.6e-5},{"s":"E","t":360,"y":4.5e-5,"e":2.1e-5},{"s":"E","t":380,"y":2.5e-5,"e":1.2e-5},{"s":"E","t":400,"y":1.8e-5,"e":9e-6},{"s":"E","t":425,"y":2.4e-5,"e":1.1e-5},{"s":"E","t":450,"y":4.4e-5,"e":2e-5},{"s":"E","t":475,"y":6e-5,"e":2.7e-5},{"s":"E","t":500,"y":8e-5,"e":3.6e-5},{"s":"E","t":530,"y":1e-4,"e":4.5e-5},{"s":"E","t":560,"y":1.2e-4,"e":5.4e-5},{"s":"E","t":590,"y":1.5e-4,"e":6.5e-5},{"s":"E","t":620,"y":1.7e-4,"e":7.5e-5},{"s":"E","t":660,"y":2e-4,"e":8.5e-5},{"s":"E","t":700,"y":2.2e-4,"e":9e-5},{"s":"E","t":740,"y":2e-4,"e":8.5e-5},{"s":"E","t":780,"y":1.4e-4,"e":6e-5},{"s":"E","t":830,"y":1e-4,"e":4.5e-5},{"s":"E","t":880,"y":7e-5,"e":3e-5},{"s":"E","t":940,"y":1.3e-4,"e":5.5e-5},{"s":"E","t":1000,"y":2.2e-4,"e":9.5e-5},{"s":"E","t":1080,"y":3.4e-4,"e":1.4e-4},{"s":"E","t":1120,"y":1.2e-4,"e":5e-5},{"s":"E","t":1170,"y":3.6e-5,"e":1.5e-5},{"s":"E","t":1250,"y":1.6e-4,"e":7e-5},{"s":"E","t":1300,"y":1.2e-4,"e":5e-5},{"s":"E","t":1360,"y":3.6e-5,"e":1.6e-5},{"s":"E","t":1450,"y":1.3e-4,"e":5.5e-5},{"s":"E","t":1550,"y":1.8e-4,"e":8e-5},{"s":"E","t":1700,"y":2.2e-4,"e":9.5e-5},{"s":"E","t":1850,"y":1.6e-4,"e":7e-5},{"s":"E","t":2000,"y":2.2e-4,"e":9.5e-5},{"s":"E","t":2200,"y":3e-4,"e":1.3e-4},{"s":"E","t":2400,"y":1.8e-4,"e":8e-5},{"s":"E","t":2600,"y":2.4e-4,"e":1e-4},{"s":"E","t":2850,"y":2.8e-4,"e":1.2e-4},{"s":"E","t":3100,"y":3.4e-4,"e":1.5e-4},{"s":"E","t":3400,"y":3e-4,"e":1.3e-4},{"s":"E","t":3700,"y":2.7e-4,"e":1.2e-4},{"s":"E","t":4000,"y":4.5e-4,"e":1.9e-4},
{"s":"F","t":105,"y":8e-5,"e":1.6e-5},{"s":"F","t":115,"y":9e-5,"e":1.8e-5},{"s":"F","t":125,"y":1.05e-4,"e":2.1e-5},{"s":"F","t":135,"y":1.15e-4,"e":2.3e-5},{"s":"F","t":145,"y":1.25e-4,"e":2.5e-5},{"s":"F","t":155,"y":1.4e-4,"e":2.8e-5},{"s":"F","t":165,"y":1.5e-4,"e":3e-5},{"s":"F","t":175,"y":1.6e-4,"e":3.2e-5},{"s":"F","t":185,"y":1.6e-4,"e":3.2e-5},{"s":"F","t":195,"y":1.6e-4,"e":3.2e-5},{"s":"F","t":205,"y":1.65e-4,"e":3.3e-5},{"s":"F","t":220,"y":1.7e-4,"e":3.4e-5},{"s":"F","t":235,"y":1.8e-4,"e":3.6e-5},{"s":"F","t":250,"y":1.9e-4,"e":3.8e-5},{"s":"F","t":265,"y":2.2e-4,"e":4.4e-5},{"s":"F","t":280,"y":2.6e-4,"e":5.2e-5},{"s":"F","t":300,"y":3.1e-4,"e":6.2e-5},{"s":"F","t":320,"y":3.6e-4,"e":7.2e-5},{"s":"F","t":340,"y":4e-4,"e":8e-5},{"s":"F","t":360,"y":4.3e-4,"e":8.6e-5},{"s":"F","t":380,"y":4.5e-4,"e":9e-5},{"s":"F","t":400,"y":4.3e-4,"e":8.6e-5},{"s":"F","t":425,"y":4e-4,"e":8e-5},{"s":"F","t":450,"y":3.9e-4,"e":7.8e-5},{"s":"F","t":475,"y":3.9e-4,"e":7.8e-5},{"s":"F","t":500,"y":4.1e-4,"e":8.2e-5},{"s":"F","t":530,"y":4.8e-4,"e":9.6e-5},{"s":"F","t":560,"y":5.5e-4,"e":1.1e-4},{"s":"F","t":590,"y":6e-4,"e":1.2e-4},{"s":"F","t":620,"y":6.4e-4,"e":1.3e-4},{"s":"F","t":660,"y":6.3e-4,"e":1.3e-4},{"s":"F","t":700,"y":5.5e-4,"e":1.1e-4},{"s":"F","t":740,"y":4.5e-4,"e":9e-5},{"s":"F","t":780,"y":4.5e-4,"e":9e-5},{"s":"F","t":830,"y":5.2e-4,"e":1e-4},{"s":"F","t":880,"y":5.8e-4,"e":1.2e-4},{"s":"F","t":940,"y":6.3e-4,"e":1.3e-4},{"s":"F","t":1000,"y":6.6e-4,"e":1.3e-4},{"s":"F","t":1080,"y":7e-4,"e":1.4e-4},{"s":"F","t":1160,"y":7.5e-4,"e":1.5e-4},{"s":"F","t":1250,"y":8e-4,"e":1.6e-4},{"s":"F","t":1350,"y":8.5e-4,"e":1.7e-4},{"s":"F","t":1450,"y":9e-4,"e":1.8e-4},{"s":"F","t":1550,"y":9.5e-4,"e":1.9e-4},{"s":"F","t":1700,"y":1e-3,"e":2e-4},{"s":"F","t":1850,"y":1.05e-3,"e":2.1e-4},{"s":"F","t":2000,"y":1.1e-3,"e":2.2e-4},{"s":"F","t":2200,"y":1.15e-3,"e":2.3e-4},{"s":"F","t":2400,"y":1.2e-3,"e":2.4e-4},{"s":"F","t":2600,"y":1.25e-3,"e":2.5e-4},{"s":"F","t":2850,"y":1.3e-3,"e":2.6e-4},{"s":"F","t":3100,"y":1.35e-3,"e":2.7e-4},{"s":"F","t":3400,"y":1.4e-3,"e":2.8e-4},{"s":"F","t":3700,"y":1.4e-3,"e":2.8e-4},{"s":"F","t":4000,"y":1.45e-3,"e":2.9e-4},
{"s":"G","t":105,"y":4.7e-4,"e":6e-5},{"s":"G","t":115,"y":4.9e-4,"e":6.5e-5},{"s":"G","t":125,"y":4.9e-4,"e":6.5e-5},{"s":"G","t":135,"y":4.8e-4,"e":6e-5},{"s":"G","t":145,"y":4.7e-4,"e":6e-5},{"s":"G","t":155,"y":5e-4,"e":6.5e-5},{"s":"G","t":165,"y":5.5e-4,"e":7e-5},{"s":"G","t":175,"y":5.8e-4,"e":7.5e-5},{"s":"G","t":185,"y":6e-4,"e":8e-5},{"s":"G","t":195,"y":6.4e-4,"e":8.5e-5},{"s":"G","t":205,"y":6.6e-4,"e":8.5e-5},{"s":"G","t":220,"y":7e-4,"e":9e-5},{"s":"G","t":235,"y":7.5e-4,"e":1e-4},{"s":"G","t":250,"y":8e-4,"e":1e-4},{"s":"G","t":265,"y":8.6e-4,"e":1.1e-4},{"s":"G","t":280,"y":9.2e-4,"e":1.2e-4},{"s":"G","t":300,"y":1e-3,"e":1.3e-4},{"s":"G","t":320,"y":1.07e-3,"e":1.4e-4},{"s":"G","t":340,"y":1.12e-3,"e":1.5e-4},{"s":"G","t":360,"y":1.18e-3,"e":1.5e-4},{"s":"G","t":380,"y":1.25e-3,"e":1.6e-4},{"s":"G","t":400,"y":1.35e-3,"e":1.8e-4},{"s":"G","t":425,"y":1.5e-3,"e":2e-4},{"s":"G","t":450,"y":1.6e-3,"e":2.1e-4},{"s":"G","t":475,"y":1.45e-3,"e":1.9e-4},{"s":"G","t":500,"y":1.25e-3,"e":1.6e-4},{"s":"G","t":530,"y":1.15e-3,"e":1.5e-4},{"s":"G","t":560,"y":1.2e-3,"e":1.6e-4},{"s":"G","t":590,"y":1.45e-3,"e":1.9e-4},{"s":"G","t":620,"y":1.6e-3,"e":2.1e-4},{"s":"G","t":660,"y":1.7e-3,"e":2.2e-4},{"s":"G","t":700,"y":1.75e-3,"e":2.3e-4},{"s":"G","t":740,"y":1.8e-3,"e":2.3e-4},{"s":"G","t":780,"y":1.85e-3,"e":2.4e-4},{"s":"G","t":830,"y":1.9e-3,"e":2.5e-4},{"s":"G","t":880,"y":1.95e-3,"e":2.5e-4},{"s":"G","t":940,"y":2e-3,"e":2.6e-4},{"s":"G","t":1000,"y":2e-3,"e":2.6e-4},{"s":"G","t":1080,"y":2.05e-3,"e":2.7e-4},{"s":"G","t":1160,"y":2.1e-3,"e":2.7e-4},{"s":"G","t":1250,"y":2.15e-3,"e":2.8e-4},{"s":"G","t":1350,"y":2.2e-3,"e":2.9e-4},{"s":"G","t":1450,"y":2.25e-3,"e":2.9e-4},{"s":"G","t":1550,"y":2.3e-3,"e":3e-4},{"s":"G","t":1700,"y":2.35e-3,"e":3.1e-4},{"s":"G","t":1850,"y":2.4e-3,"e":3.1e-4},{"s":"G","t":2000,"y":2.45e-3,"e":3.2e-4},{"s":"G","t":2200,"y":2.5e-3,"e":3.3e-4},{"s":"G","t":2400,"y":2.55e-3,"e":3.3e-4},{"s":"G","t":2600,"y":2.6e-3,"e":3.4e-4},{"s":"G","t":2850,"y":2.65e-3,"e":3.4e-4},{"s":"G","t":3100,"y":2.7e-3,"e":3.5e-4},{"s":"G","t":3400,"y":2.8e-3,"e":3.6e-4},{"s":"G","t":3700,"y":2.85e-3,"e":3.7e-4},{"s":"G","t":4000,"y":2.9e-3,"e":3.8e-4}
]
},
"vconcat": [
{
  "width": 540, "height": 377,
  "title": {"text": "Qaₛ=1.25 x 10⁻¹", "anchor": "start", "frame": "group", "orient": "top", "offset": -40, "dx": 53, "fontSize": 17, "fontWeight": "normal", "color": "black"},
  "resolve": {"scale": {"shape": "independent", "color": "independent"}, "axis": {"x": "independent", "y": "independent"}, "legend": {"color": "independent", "shape": "independent"}},
  "layer": [
    {
      "data": {"name": "top"},
      "transform": [{"filter": "datum.t >= (indexof(['C','D','G','H'], datum.s) >= 0 ? 300 : indexof(['B','F'], datum.s) >= 0 ? 500 : 700)"}],
      "mark": {"type": "errorband", "band": {"opacity": 1}, "clip": true},
      "encoding": {
        "x": {"field": "t", "type": "quantitative", "scale": {"type": "log", "domain": [100, 29200], "nice": false},
          "axis": {"title": "Evolution time: Qt", "values": [100,200,300,400,500,600,700,800,900,1000,2000,3000,4000,5000,6000,7000,8000,9000,10000,20000],
            "labelExpr": "datum.value==100?'10²':datum.value==1000?'10³':datum.value==10000?'10⁴':''",
            "tickSize": {"condition": {"test": "abs(log(datum.value)/LN10-round(log(datum.value)/LN10))<0.001", "value": -8}, "value": -4},
            "labelPadding": 18, "titlePadding": 8}},
        "y": {"field": "y", "type": "quantitative", "scale": {"type": "log", "domain": [1e-6, 0.1], "nice": false},
          "axis": {"title": "Condensate: Q²/n₀ (φ₀²+π₀²/m²)¹⁄²", "values": [1e-6,2e-6,3e-6,4e-6,5e-6,6e-6,7e-6,8e-6,9e-6,1e-5,2e-5,3e-5,4e-5,5e-5,6e-5,7e-5,8e-5,9e-5,1e-4,2e-4,3e-4,4e-4,5e-4,6e-4,7e-4,8e-4,9e-4,0.001,0.002,0.003,0.004,0.005,0.006,0.007,0.008,0.009,0.01,0.02,0.03,0.04,0.05,0.06,0.07,0.08,0.09,0.1],
            "labelExpr": "datum.value==1e-6?'10⁻⁶':datum.value==1e-5?'10⁻⁵':datum.value==1e-4?'10⁻⁴':datum.value==0.001?'10⁻³':datum.value==0.01?'10⁻²':datum.value==0.1?'10⁻¹':''",
            "tickSize": {"condition": {"test": "abs(log(datum.value)/LN10-round(log(datum.value)/LN10))<0.001", "value": -8}, "value": -4},
            "labelPadding": 22, "titlePadding": 8}},
        "yError": {"field": "e"},
        "color": {"field": "s", "type": "nominal", "scale": {"domain": ["A","B","C","D","E","F","G","H","Q"], "range": ["#00ffff","#0000ff","#ff00ff","#00ff00","#00aaaa","#0000a0","#a000a0","#00a000","#c0c0c0"]}, "legend": null}
      }
    },
    {
      "data": {"name": "top"},
      "transform": [{"filter": "datum.t <= 1000"}],
      "mark": {"type": "errorbar", "ticks": true, "clip": true},
      "encoding": {
        "x": {"field": "t", "type": "quantitative", "scale": {"type": "log", "domain": [100, 29200], "nice": false}, "axis": null},
        "y": {"field": "y", "type": "quantitative", "scale": {"type": "log", "domain": [1e-6, 0.1], "nice": false}, "axis": null},
        "yError": {"field": "e"},
        "color": {"field": "s", "type": "nominal", "scale": {"domain": ["A","B","C","D","E","F","G","H","Q"], "range": ["#00ffff","#0000ff","#ff00ff","#00ff00","#00aaaa","#0000a0","#a000a0","#00a000","#c0c0c0"]}, "legend": null}
      }
    },
    {
      "data": {"name": "top"},
      "transform": [{"filter": "datum.t <= 1000 && indexof(['A','B','C','D','F','H'], datum.s) >= 0"}],
      "mark": {"type": "point", "filled": false, "size": 30, "strokeWidth": 1, "opacity": 1, "clip": true},
      "encoding": {
        "x": {"field": "t", "type": "quantitative", "scale": {"type": "log", "domain": [100, 29200], "nice": false}, "axis": null},
        "y": {"field": "y", "type": "quantitative", "scale": {"type": "log", "domain": [1e-6, 0.1], "nice": false}, "axis": null},
        "color": {"field": "s", "type": "nominal", "scale": {"domain": ["A","B","C","D","E","F","G","H","Q"], "range": ["#00ffff","#0000ff","#ff00ff","#00ff00","#00aaaa","#0000a0","#a000a0","#00a000","#c0c0c0"]}, "legend": null},
        "shape": {"field": "s", "type": "nominal", "scale": {"domain": ["A","B","C","D","F","H"], "range": ["M-1,0L1,0M0,-1L0,1","M-0.75,-0.75L0.75,0.75M-0.75,0.75L0.75,-0.75","M-1,0L1,0M0,-1L0,1M-0.7,-0.7L0.7,0.7M-0.7,0.7L0.7,-0.7","square","diamond","circle"]}, "legend": null}
      }
    },
    {
      "data": {"name": "top"},
      "transform": [{"filter": "datum.t <= 1000 && (datum.s == 'E' || datum.s == 'G')"}],
      "mark": {"type": "point", "filled": true, "size": 22, "opacity": 1, "clip": true},
      "encoding": {
        "x": {"field": "t", "type": "quantitative", "scale": {"type": "log", "domain": [100, 29200], "nice": false}, "axis": null},
        "y": {"field": "y", "type": "quantitative", "scale": {"type": "log", "domain": [1e-6, 0.1], "nice": false}, "axis": null},
        "color": {"field": "s", "type": "nominal", "scale": {"domain": ["A","B","C","D","E","F","G","H","Q"], "range": ["#00ffff","#0000ff","#ff00ff","#00ff00","#00aaaa","#0000a0","#a000a0","#00a000","#c0c0c0"]}, "legend": null},
        "shape": {"field": "s", "type": "nominal", "scale": {"domain": ["E","G"], "range": ["triangle-down","circle"]}, "legend": null}
      }
    },
    {
      "data": {"name": "topfit"},
      "mark": {"type": "line", "color": "#c0c0c0", "strokeWidth": 3.5, "clip": true},
      "encoding": {
        "x": {"field": "t", "type": "quantitative", "scale": {"type": "log", "domain": [100, 29200], "nice": false},
          "axis": {"orient": "top", "title": null, "labels": false, "values": [100,200,300,400,500,600,700,800,900,1000,2000,3000,4000,5000,6000,7000,8000,9000,10000,20000],
            "tickSize": {"condition": {"test": "abs(log(datum.value)/LN10-round(log(datum.value)/LN10))<0.001", "value": -8}, "value": -4}}},
        "y": {"field": "y", "type": "quantitative", "scale": {"type": "log", "domain": [1e-6, 0.1], "nice": false},
          "axis": {"orient": "right", "title": null, "labels": false, "values": [1e-6,2e-6,3e-6,4e-6,5e-6,6e-6,7e-6,8e-6,9e-6,1e-5,2e-5,3e-5,4e-5,5e-5,6e-5,7e-5,8e-5,9e-5,1e-4,2e-4,3e-4,4e-4,5e-4,6e-4,7e-4,8e-4,9e-4,0.001,0.002,0.003,0.004,0.005,0.006,0.007,0.008,0.009,0.01,0.02,0.03,0.04,0.05,0.06,0.07,0.08,0.09,0.1],
            "tickSize": {"condition": {"test": "abs(log(datum.value)/LN10-round(log(datum.value)/LN10))<0.001", "value": -8}, "value": -4}}},
        "detail": {"field": "k", "type": "nominal"}
      }
    },
    {
      "data": {"name": "top"},
      "transform": [{"filter": "false"}],
      "mark": {"type": "point", "filled": false},
      "encoding": {
        "x": {"field": "t", "type": "quantitative", "scale": {"type": "log", "domain": [100, 29200], "nice": false}, "axis": null},
        "y": {"field": "y", "type": "quantitative", "scale": {"type": "log", "domain": [1e-6, 0.1], "nice": false}, "axis": null},
        "color": {"field": "s", "type": "nominal", "scale": {"domain": ["A","B","C","D","E","F","G","H","Q"], "range": ["#00ffff","#0000ff","#ff00ff","#00ff00","#00aaaa","#0000a0","#a000a0","#00a000","#c0c0c0"]},
          "legend": {"title": null, "orient": "none", "legendX": 32, "legendY": 310, "columns": 3, "columnPadding": 3, "rowPadding": 7, "padding": 0, "symbolSize": 64, "symbolStrokeWidth": 1, "symbolOpacity": 1, "labelAlign": "right", "labelOffset": 100, "labelFontSize": 15, "labelLimit": 300, "labelColor": "black",
            "labelExpr": "{'A':'Nₛ=2048 n₀=10','B':'Nₛ=1024 n₀=10','C':'Nₛ=512 n₀=10','D':'Nₛ=256 n₀=10','E':'Nₛ=2048 n₀=20','F':'Nₛ=1024 n₀=20','G':'Nₛ=512 n₀=20','H':'Nₛ=256 n₀=20','Q':'(Qt)⁰·⁴'}[datum.label]"}},
        "shape": {"field": "s", "type": "nominal", "scale": {"domain": ["A","B","C","D","E","F","G","H","Q"], "range": [
            "M-1,0M28,-0.75L28,0.75M38.25,-0.75L38.25,0.75M28,0L38.25,0M32.4,0L33.85,0M33.125,-0.75L33.125,0.75",
            "M-1,0M28,-0.75L28,0.75M38.25,-0.75L38.25,0.75M28,0L38.25,0M32.5,-0.6L33.75,0.6M32.5,0.6L33.75,-0.6",
            "M-1,0M28,-0.75L28,0.75M38.25,-0.75L38.25,0.75M28,0L38.25,0M33.125,-0.75L33.125,0.75M32.5,-0.6L33.75,0.6M32.5,0.6L33.75,-0.6",
            "M-1,0M28,-0.75L28,0.75M38.25,-0.75L38.25,0.75M28,0L38.25,0M32.45,-0.68L33.8,-0.68L33.8,0.68L32.45,0.68Z",
            "M-1,0M28,-0.75L28,0.75M38.25,-0.75L38.25,0.75M28,0L38.25,0M32.35,-0.6L33.9,-0.6L33.125,0.75ZM32.6,-0.3L33.65,-0.3M32.85,0.1L33.4,0.1",
            "M-1,0M28,-0.75L28,0.75M38.25,-0.75L38.25,0.75M28,0L38.25,0M33.125,-0.85L33.95,0L33.125,0.85L32.3,0Z",
            "M-1,0M28,-0.75L28,0.75M38.25,-0.75L38.25,0.75M28,0L38.25,0M32.8,0A0.33,0.33 0 1,1 33.45,0A0.33,0.33 0 1,1 32.8,0M32.95,-0.15L33.3,-0.15M32.95,0.15L33.3,0.15",
            "M-1,0M28,-0.75L28,0.75M38.25,-0.75L38.25,0.75M28,0L38.25,0M32.45,0A0.68,0.68 0 1,1 33.8,0A0.68,0.68 0 1,1 32.45,0",
            "M-1,0M28,-0.4L38.25,-0.4M28,-0.2L38.25,-0.2M28,0L38.25,0M28,0.2L38.25,0.2M28,0.4L38.25,0.4"]},
          "legend": {"title": null, "orient": "none", "legendX": 32, "legendY": 310, "columns": 3, "columnPadding": 3, "rowPadding": 7, "padding": 0, "symbolSize": 64, "symbolStrokeWidth": 1, "symbolOpacity": 1, "labelAlign": "right", "labelOffset": 100, "labelFontSize": 15, "labelLimit": 300, "labelColor": "black",
            "labelExpr": "{'A':'Nₛ=2048 n₀=10','B':'Nₛ=1024 n₀=10','C':'Nₛ=512 n₀=10','D':'Nₛ=256 n₀=10','E':'Nₛ=2048 n₀=20','F':'Nₛ=1024 n₀=20','G':'Nₛ=512 n₀=20','H':'Nₛ=256 n₀=20','Q':'(Qt)⁰·⁴'}[datum.label]"}}
      }
    }
  ]
},
{
  "width": 540, "height": 377,
  "title": {"text": "Qaₛ=6.25 x 10⁻²", "anchor": "start", "frame": "group", "orient": "top", "offset": -40, "dx": 53, "fontSize": 17, "fontWeight": "normal", "color": "black"},
  "resolve": {"scale": {"shape": "independent", "color": "independent"}, "axis": {"x": "independent", "y": "independent"}, "legend": {"color": "independent", "shape": "independent"}},
  "layer": [
    {
      "data": {"name": "bot"},
      "transform": [{"filter": "datum.t >= (indexof(['C','G'], datum.s) >= 0 ? 350 : indexof(['B','F'], datum.s) >= 0 ? 500 : 660)"}],
      "mark": {"type": "errorband", "band": {"opacity": 1}, "clip": true},
      "encoding": {
        "x": {"field": "t", "type": "quantitative", "scale": {"type": "log", "domain": [100, 3960], "nice": false},
          "axis": {"title": "Evolution time: Qt", "values": [100,200,300,400,500,600,700,800,900,1000,2000,3000],
            "labelExpr": "datum.value==100?'10²':datum.value==1000?'10³':''",
            "tickSize": {"condition": {"test": "abs(log(datum.value)/LN10-round(log(datum.value)/LN10))<0.001", "value": -8}, "value": -4},
            "labelPadding": 18, "titlePadding": 8}},
        "y": {"field": "y", "type": "quantitative", "scale": {"type": "log", "domain": [1e-6, 0.01], "nice": false},
          "axis": {"title": "Condensate: Q²/n₀ (φ₀²+π₀²/m²)¹⁄²", "values": [1e-6,2e-6,3e-6,4e-6,5e-6,6e-6,7e-6,8e-6,9e-6,1e-5,2e-5,3e-5,4e-5,5e-5,6e-5,7e-5,8e-5,9e-5,1e-4,2e-4,3e-4,4e-4,5e-4,6e-4,7e-4,8e-4,9e-4,0.001,0.002,0.003,0.004,0.005,0.006,0.007,0.008,0.009,0.01],
            "labelExpr": "datum.value==1e-6?'10⁻⁶':datum.value==1e-5?'10⁻⁵':datum.value==1e-4?'10⁻⁴':datum.value==0.001?'10⁻³':datum.value==0.01?'10⁻²':''",
            "tickSize": {"condition": {"test": "abs(log(datum.value)/LN10-round(log(datum.value)/LN10))<0.001", "value": -8}, "value": -4},
            "labelPadding": 22, "titlePadding": 8}},
        "yError": {"field": "e"},
        "color": {"field": "s", "type": "nominal", "scale": {"domain": ["A","B","C","E","F","G","Q"], "range": ["#00ffff","#0000ff","#ff00ff","#00aaaa","#0000a0","#a000a0","#c0c0c0"]}, "legend": null}
      }
    },
    {
      "data": {"name": "bot"},
      "transform": [{"filter": "datum.t <= 1000"}],
      "mark": {"type": "errorbar", "ticks": true, "clip": true},
      "encoding": {
        "x": {"field": "t", "type": "quantitative", "scale": {"type": "log", "domain": [100, 3960], "nice": false}, "axis": null},
        "y": {"field": "y", "type": "quantitative", "scale": {"type": "log", "domain": [1e-6, 0.01], "nice": false}, "axis": null},
        "yError": {"field": "e"},
        "color": {"field": "s", "type": "nominal", "scale": {"domain": ["A","B","C","E","F","G","Q"], "range": ["#00ffff","#0000ff","#ff00ff","#00aaaa","#0000a0","#a000a0","#c0c0c0"]}, "legend": null}
      }
    },
    {
      "data": {"name": "bot"},
      "transform": [{"filter": "datum.t <= 1000 && indexof(['A','B','C','F'], datum.s) >= 0"}],
      "mark": {"type": "point", "filled": false, "size": 30, "strokeWidth": 1, "opacity": 1, "clip": true},
      "encoding": {
        "x": {"field": "t", "type": "quantitative", "scale": {"type": "log", "domain": [100, 3960], "nice": false}, "axis": null},
        "y": {"field": "y", "type": "quantitative", "scale": {"type": "log", "domain": [1e-6, 0.01], "nice": false}, "axis": null},
        "color": {"field": "s", "type": "nominal", "scale": {"domain": ["A","B","C","E","F","G","Q"], "range": ["#00ffff","#0000ff","#ff00ff","#00aaaa","#0000a0","#a000a0","#c0c0c0"]}, "legend": null},
        "shape": {"field": "s", "type": "nominal", "scale": {"domain": ["A","B","C","F"], "range": ["M-1,0L1,0M0,-1L0,1","M-0.75,-0.75L0.75,0.75M-0.75,0.75L0.75,-0.75","M-1,0L1,0M0,-1L0,1M-0.7,-0.7L0.7,0.7M-0.7,0.7L0.7,-0.7","diamond"]}, "legend": null}
      }
    },
    {
      "data": {"name": "bot"},
      "transform": [{"filter": "datum.t <= 1000 && (datum.s == 'E' || datum.s == 'G')"}],
      "mark": {"type": "point", "filled": true, "size": 22, "opacity": 1, "clip": true},
      "encoding": {
        "x": {"field": "t", "type": "quantitative", "scale": {"type": "log", "domain": [100, 3960], "nice": false}, "axis": null},
        "y": {"field": "y", "type": "quantitative", "scale": {"type": "log", "domain": [1e-6, 0.01], "nice": false}, "axis": null},
        "color": {"field": "s", "type": "nominal", "scale": {"domain": ["A","B","C","E","F","G","Q"], "range": ["#00ffff","#0000ff","#ff00ff","#00aaaa","#0000a0","#a000a0","#c0c0c0"]}, "legend": null},
        "shape": {"field": "s", "type": "nominal", "scale": {"domain": ["E","G"], "range": ["triangle-down","circle"]}, "legend": null}
      }
    },
    {
      "data": {"name": "botfit"},
      "mark": {"type": "line", "color": "#c0c0c0", "strokeWidth": 3.5, "clip": true},
      "encoding": {
        "x": {"field": "t", "type": "quantitative", "scale": {"type": "log", "domain": [100, 3960], "nice": false},
          "axis": {"orient": "top", "title": null, "labels": false, "values": [100,200,300,400,500,600,700,800,900,1000,2000,3000],
            "tickSize": {"condition": {"test": "abs(log(datum.value)/LN10-round(log(datum.value)/LN10))<0.001", "value": -8}, "value": -4}}},
        "y": {"field": "y", "type": "quantitative", "scale": {"type": "log", "domain": [1e-6, 0.01], "nice": false},
          "axis": {"orient": "right", "title": null, "labels": false, "values": [1e-6,2e-6,3e-6,4e-6,5e-6,6e-6,7e-6,8e-6,9e-6,1e-5,2e-5,3e-5,4e-5,5e-5,6e-5,7e-5,8e-5,9e-5,1e-4,2e-4,3e-4,4e-4,5e-4,6e-4,7e-4,8e-4,9e-4,0.001,0.002,0.003,0.004,0.005,0.006,0.007,0.008,0.009,0.01],
            "tickSize": {"condition": {"test": "abs(log(datum.value)/LN10-round(log(datum.value)/LN10))<0.001", "value": -8}, "value": -4}}},
        "detail": {"field": "k", "type": "nominal"}
      }
    },
    {
      "data": {"name": "bot"},
      "transform": [{"filter": "false"}],
      "mark": {"type": "point", "filled": false},
      "encoding": {
        "x": {"field": "t", "type": "quantitative", "scale": {"type": "log", "domain": [100, 3960], "nice": false}, "axis": null},
        "y": {"field": "y", "type": "quantitative", "scale": {"type": "log", "domain": [1e-6, 0.01], "nice": false}, "axis": null},
        "color": {"field": "s", "type": "nominal", "scale": {"domain": ["A","B","C","E","F","G","Q"], "range": ["#00ffff","#0000ff","#ff00ff","#00aaaa","#0000a0","#a000a0","#c0c0c0"]},
          "legend": {"title": null, "orient": "none", "legendX": 177, "legendY": 285, "columns": 2, "columnPadding": 0, "rowPadding": 7, "padding": 0, "symbolSize": 64, "symbolStrokeWidth": 1, "symbolOpacity": 1, "labelAlign": "right", "labelOffset": 110, "labelFontSize": 15, "labelLimit": 300, "labelColor": "black",
            "labelExpr": "{'A':'Nₛ=2048 n₀=40','B':'Nₛ=1024\u00a0 n₀=40','C':'Nₛ=512\u00a0 n₀=40','E':'Nₛ=2048\u00a0 n₀=80','F':'Nₛ=1024\u00a0 n₀=80','G':'Nₛ=512\u00a0 n₀=80','Q':'(Qt)⁰·⁴'}[datum.label]"}},
        "shape": {"field": "s", "type": "nominal", "scale": {"domain": ["A","B","C","E","F","G","Q"], "range": [
            "M-1,0M30.5,-0.75L30.5,0.75M41,-0.75L41,0.75M30.5,0L41,0M35.05,0L36.45,0M35.75,-0.75L35.75,0.75",
            "M-1,0M30.5,-0.75L30.5,0.75M41,-0.75L41,0.75M30.5,0L41,0M35.12,-0.6L36.38,0.6M35.12,0.6L36.38,-0.6",
            "M-1,0M30.5,-0.75L30.5,0.75M41,-0.75L41,0.75M30.5,0L41,0M35.75,-0.75L35.75,0.75M35.12,-0.6L36.38,0.6M35.12,0.6L36.38,-0.6",
            "M-1,0M30.5,-0.75L30.5,0.75M41,-0.75L41,0.75M30.5,0L41,0M34.98,-0.6L36.52,-0.6L35.75,0.75ZM35.22,-0.3L36.28,-0.3M35.48,0.1L36.02,0.1",
            "M-1,0M30.5,-0.75L30.5,0.75M41,-0.75L41,0.75M30.5,0L41,0M35.75,-0.85L36.6,0L35.75,0.85L34.9,0Z",
            "M-1,0M30.5,-0.75L30.5,0.75M41,-0.75L41,0.75M30.5,0L41,0M35.42,0A0.33,0.33 0 1,1 36.08,0A0.33,0.33 0 1,1 35.42,0M35.58,-0.15L35.92,-0.15M35.58,0.15L35.92,0.15",
            "M-1,0M30.5,-0.4L41,-0.4M30.5,-0.2L41,-0.2M30.5,0L41,0M30.5,0.2L41,0.2M30.5,0.4L41,0.4"]},
          "legend": {"title": null, "orient": "none", "legendX": 177, "legendY": 285, "columns": 2, "columnPadding": 0, "rowPadding": 7, "padding": 0, "symbolSize": 64, "symbolStrokeWidth": 1, "symbolOpacity": 1, "labelAlign": "right", "labelOffset": 110, "labelFontSize": 15, "labelLimit": 300, "labelColor": "black",
            "labelExpr": "{'A':'Nₛ=2048 n₀=40','B':'Nₛ=1024\u00a0 n₀=40','C':'Nₛ=512\u00a0 n₀=40','E':'Nₛ=2048\u00a0 n₀=80','F':'Nₛ=1024\u00a0 n₀=80','G':'Nₛ=512\u00a0 n₀=80','Q':'(Qt)⁰·⁴'}[datum.label]"}}
      }
    }
  ]
}
]
}
